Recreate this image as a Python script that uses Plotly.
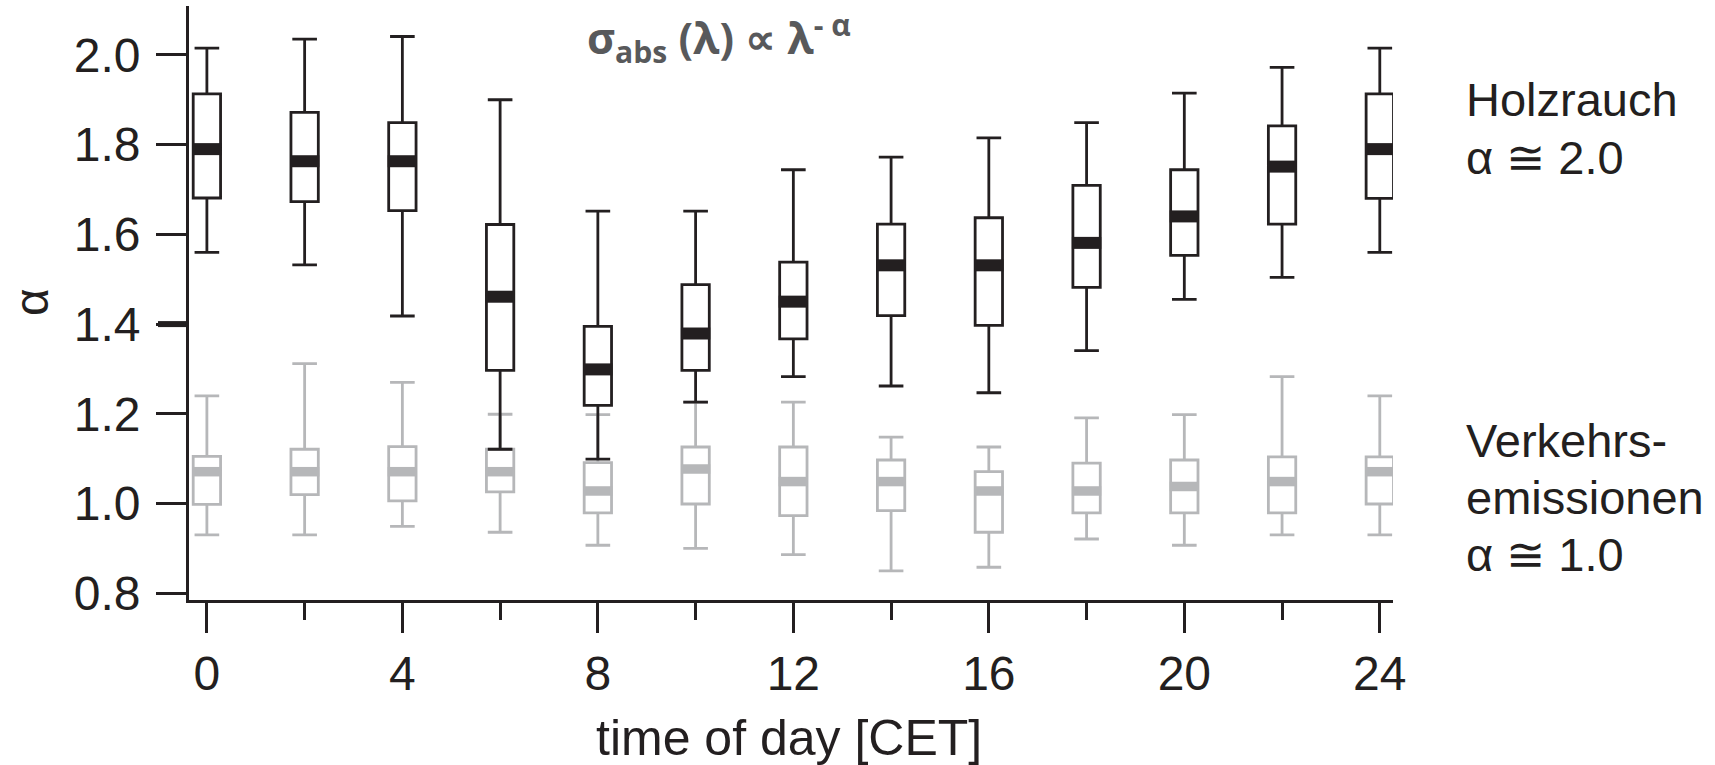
import plotly.graph_objects as go

hours = [0, 2, 4, 6, 8, 10, 12, 14, 16, 18, 20, 22, 24]
major_ticks = [0, 4, 8, 12, 16, 20, 24]
minor_ticks = [2, 6, 10, 14, 18, 22]
y_ticks = [0.8, 1.0, 1.2, 1.4, 1.6, 1.8, 2.0]

# Holzrauch (wood smoke) - black boxes
black_upper = [2.015, 2.035, 2.041, 1.900, 1.652, 1.652, 1.744, 1.772, 1.815, 1.849, 1.915, 1.972, 2.015]
black_q3 = [1.913, 1.872, 1.849, 1.622, 1.395, 1.488, 1.538, 1.623, 1.637, 1.709, 1.744, 1.842, 1.913]
black_median = [1.790, 1.763, 1.763, 1.461, 1.299, 1.379, 1.450, 1.531, 1.531, 1.581, 1.640, 1.751, 1.790]
black_q1 = [1.681, 1.673, 1.653, 1.297, 1.219, 1.297, 1.367, 1.419, 1.397, 1.482, 1.553, 1.623, 1.680]
black_lower = [1.560, 1.532, 1.418, 1.121, 1.099, 1.226, 1.283, 1.262, 1.247, 1.341, 1.455, 1.504, 1.560]

# Verkehrsemissionen (traffic) - gray boxes
gray_upper = [1.240, 1.312, 1.270, 1.199, 1.198, 1.226, 1.226, 1.148, 1.126, 1.191, 1.198, 1.283, 1.240]
gray_q3 = [1.105, 1.121, 1.127, 1.121, 1.091, 1.126, 1.126, 1.097, 1.071, 1.090, 1.097, 1.104, 1.104]
gray_median = [1.071, 1.071, 1.071, 1.071, 1.028, 1.077, 1.049, 1.049, 1.028, 1.028, 1.038, 1.049, 1.071]
gray_q1 = [0.998, 1.020, 1.006, 1.026, 0.979, 0.999, 0.973, 0.984, 0.936, 0.979, 0.979, 0.979, 0.999]
gray_lower = [0.930, 0.930, 0.949, 0.936, 0.907, 0.900, 0.886, 0.850, 0.858, 0.921, 0.907, 0.930, 0.930]

BLACK = "#231f20"
GRAY = "#b6b7b9"
FONT = "Liberation Sans, Arial, sans-serif"
BOX_W = 0.56
HALF_MED = 0.3


def median_bars(xs, meds):
    bx, by = [], []
    for x, m in zip(xs, meds):
        bx += [x - HALF_MED, x + HALF_MED, None]
        by += [m, m, None]
    return bx, by


fig = go.Figure()

for upper, q3, med, q1, lower, col, medw in [
    (gray_upper, gray_q3, gray_median, gray_q1, gray_lower, GRAY, 9.5),
    (black_upper, black_q3, black_median, black_q1, black_lower, BLACK, 12),
]:
    fig.add_trace(go.Box(
        x=hours, q1=q1, median=med, q3=q3, lowerfence=lower, upperfence=upper,
        width=BOX_W, whiskerwidth=0.9, boxpoints=False,
        line=dict(color=col, width=2.8), fillcolor="rgba(0,0,0,0)",
        showlegend=False, hoverinfo="skip",
    ))
    mx, my = median_bars(hours, med)
    fig.add_trace(go.Scatter(
        x=mx, y=my, mode="lines", line=dict(color=col, width=medw),
        showlegend=False, hoverinfo="skip",
    ))

L, R, T, B = 189, 322, 6, 165
W, H = 1715, 765
pw, ph = W - L - R, H - T - B


def px(xp):
    return (xp - L) / pw


def py(yp):
    return (H - B - yp) / ph


fig.update_layout(
    width=W, height=H, autosize=False,
    margin=dict(l=L, r=R, t=T, b=B, pad=0),
    paper_bgcolor="white", plot_bgcolor="white",
    boxmode="overlay",
    font=dict(family=FONT, color=BLACK),
    xaxis=dict(
        range=[-0.366, 24.27], tickmode="array", tickvals=major_ticks,
        ticktext=[str(t) for t in major_ticks],
        ticks="outside", ticklen=30, tickwidth=2.7, tickcolor=BLACK,
        showline=True, linewidth=2.7, linecolor=BLACK,
        showgrid=False, zeroline=False,
        tickfont=dict(size=48, family=FONT, color=BLACK),
        minor=dict(tickmode="array", tickvals=minor_ticks, ticks="outside",
                   ticklen=17, tickwidth=2.7, tickcolor=BLACK, showgrid=False),
    ),
    yaxis=dict(
        range=[0.785, 2.109], tickmode="array", tickvals=y_ticks,
        ticktext=[f"{v:.1f}" for v in y_ticks],
        ticks="outside", ticklen=30, tickwidth=2.7, tickcolor=BLACK,
        showline=True, linewidth=2.7, linecolor=BLACK,
        showgrid=False, zeroline=False, ticklabelstandoff=6,
        tickfont=dict(size=48, family=FONT, color=BLACK),
    ),
)

annots = [
    dict(text="α", x=px(31), y=py(302), textangle=-90, size=48, xanchor="center"),
    dict(text="time of day [CET]", x=px(789), y=py(738), size=50, xanchor="center"),
    dict(text="Holzrauch", x=px(1464), y=py(99), size=47, xanchor="left"),
    dict(text="α ≅ 2.0", x=px(1464), y=py(157), size=47, xanchor="left"),
    dict(text="Verkehrs-", x=px(1464), y=py(440), size=47, xanchor="left"),
    dict(text="emissionen", x=px(1464), y=py(497), size=47, xanchor="left"),
    dict(text="α ≅ 1.0", x=px(1464), y=py(554), size=47, xanchor="left"),
]
for a in annots:
    fig.add_annotation(
        text=a["text"], x=a["x"], y=a["y"], xref="paper", yref="paper",
        xanchor=a["xanchor"], yanchor="middle", showarrow=False,
        textangle=a.get("textangle", 0),
        font=dict(size=a["size"], family=FONT, color=BLACK),
    )

fig.add_annotation(
    text="<b>σ<sub>abs</sub> (λ) ∝ λ<sup>- α</sup></b>",
    x=px(719), y=py(38), xref="paper", yref="paper",
    xanchor="center", yanchor="middle", showarrow=False,
    font=dict(size=43, family="Open Sans, sans-serif", color="#58595b"),
)

# slightly bolder tick at 1.4 as in the original
fig.add_shape(type="line", xref="paper", yref="y", x0=px(158), x1=px(189),
              y0=y_ticks[3], y1=y_ticks[3], line=dict(color=BLACK, width=6))

fig.write_html("out.html")
